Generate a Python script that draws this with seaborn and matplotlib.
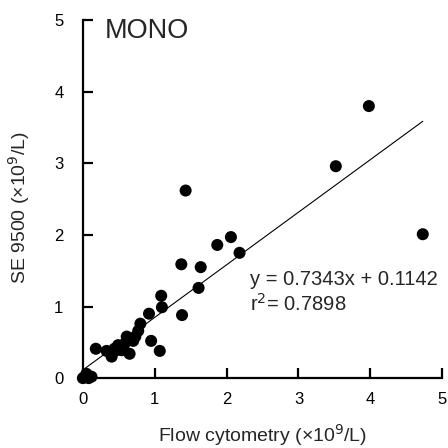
import matplotlib
matplotlib.use("Agg")
import matplotlib.pyplot as plt
import seaborn as sns
import numpy as np
import pandas as pd

sns.set_style("white")
plt.rcParams["font.family"] = ["Liberation Sans", "DejaVu Sans"]

# flow cytometry vs SE 9500 monocyte counts (x10^9/L)
flow = [0.00, 0.03, 0.08, 0.12, 0.05, 0.18, 0.33, 0.40, 0.44, 0.47, 0.49,
        0.54, 0.58, 0.61, 0.65, 0.70, 0.73, 0.77, 0.80, 0.92, 0.95, 1.07,
        1.09, 1.10, 1.38, 1.37, 1.43, 1.61, 1.64, 1.87, 2.06, 2.18, 3.52,
        3.98, 4.73]
se9500 = [0.00, 0.02, 0.00, 0.02, 0.06, 0.41, 0.38, 0.30, 0.41, 0.39, 0.46,
          0.39, 0.48, 0.58, 0.34, 0.52, 0.58, 0.66, 0.76, 0.90, 0.52, 0.38,
          1.15, 0.99, 0.88, 1.59, 2.62, 1.26, 1.55, 1.86, 1.97, 1.75, 2.96,
          3.80, 2.01]

slope = 0.7343
intercept = 0.1142
r2 = 0.7898

df = pd.DataFrame({"flow": flow, "se": se9500})
fit_x = np.array([0.0, max(flow)])
fit = pd.DataFrame({"x": fit_x, "y": slope * fit_x + intercept})

fig = plt.figure(figsize=(4.48, 4.48), dpi=100)
ax = fig.add_axes([0.185, 0.156, 0.802, 0.799])

sns.lineplot(data=fit, x="x", y="y", ax=ax, color="black", linewidth=0.8)
sns.scatterplot(data=df, x="flow", y="se", ax=ax, color="black",
                s=75, edgecolor="none", zorder=3, clip_on=False)

ax.set_xlim(0, 5)
ax.set_ylim(0, 5)
ax.set_xticks(range(6))
ax.set_yticks(range(6))
sns.despine(ax=ax)
for side in ["left", "bottom"]:
    ax.spines[side].set_linewidth(1.6)
    ax.spines[side].set_color("black")
ax.tick_params(axis="both", direction="in", length=7, width=1.6,
               labelsize=12, colors="black", bottom=True, left=True)
ax.tick_params(axis="x", pad=10)
ax.tick_params(axis="y", pad=14)

ax.set_xlabel("Flow cytometry (\u00d710$^{9}$/L)", fontsize=14)
ax.set_ylabel("SE 9500 (\u00d710$^{9}$/L)", fontsize=14)
ax.xaxis.label.set_verticalalignment("baseline")
ax.xaxis.set_label_coords(0.50, -0.178)
ax.yaxis.set_label_coords(-0.142, 0.475)

ax.text(0.31, 4.75, "MONO", fontsize=19.5)
ax.text(2.33, 1.30, f"y = {slope}x + {intercept}", fontsize=14.5)
ax.text(2.33, 0.94, f"r$^2$= {r2}", fontsize=14.5)

plt.savefig("out.png", dpi=100)
